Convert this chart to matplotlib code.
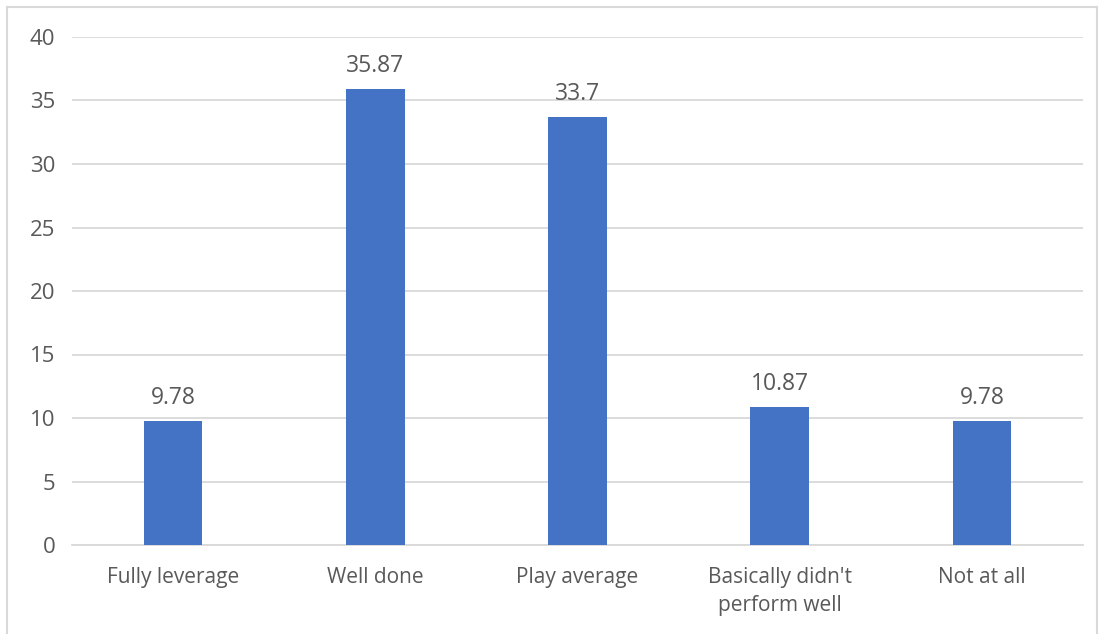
import matplotlib
import matplotlib.pyplot as plt
from matplotlib.patches import Rectangle

matplotlib.use("Agg")

categories = ["Fully leverage", "Well done", "Play average", "Basically didn't\nperform well", "Not at all"]
values = [9.78, 35.87, 33.7, 10.87, 9.78]
value_labels = ["9.78", "35.87", "33.7", "10.87", "9.78"]
y_ticks = [0, 5, 10, 15, 20, 25, 30, 35, 40]

text_color = "#595959"
grid_color = "#D9D9D9"
bar_color = "#4472C4"

plt.rcParams["font.family"] = ["Open Sans", "DejaVu Sans"]

fig = plt.figure(figsize=(11.01, 6.34), dpi=100)
ax = fig.add_axes([72 / 1101, 1 - 545 / 634, (1083 - 72) / 1101, (545 - 37) / 634])

x = range(len(categories))
ax.bar(x, values, width=0.29, color=bar_color, zorder=3)
for xi, v, lab in zip(x, values, value_labels):
    ax.annotate(lab, (xi, v), xytext=(0, 8), textcoords="offset points",
                ha="center", va="bottom", fontsize=16.5, color=text_color)

ax.set_xlim(-0.5, len(categories) - 0.5)
ax.set_ylim(0, 40)
ax.set_yticks(y_ticks)
ax.set_xticks(list(x))
ax.set_xticklabels(categories, fontsize=15, color=text_color, linespacing=1.4, va="top")
ax.tick_params(axis="y", labelsize=16, labelcolor=text_color, length=0, pad=12)
ax.tick_params(axis="x", length=0, pad=16)
ax.grid(axis="y", color=grid_color, linewidth=1.3, zorder=0)
for side in ["top", "right", "left"]:
    ax.spines[side].set_visible(False)
ax.spines["bottom"].set_color(grid_color)
ax.spines["bottom"].set_linewidth(1.3)

fig.patches.append(Rectangle((7 / 1101, -0.01), 1090 / 1101, 1 - 7 / 634 + 0.01,
                             transform=fig.transFigure, fill=False,
                             edgecolor="#D9D9D9", linewidth=1.5))

fig.savefig("out.png", dpi=100)
plt.close(fig)
